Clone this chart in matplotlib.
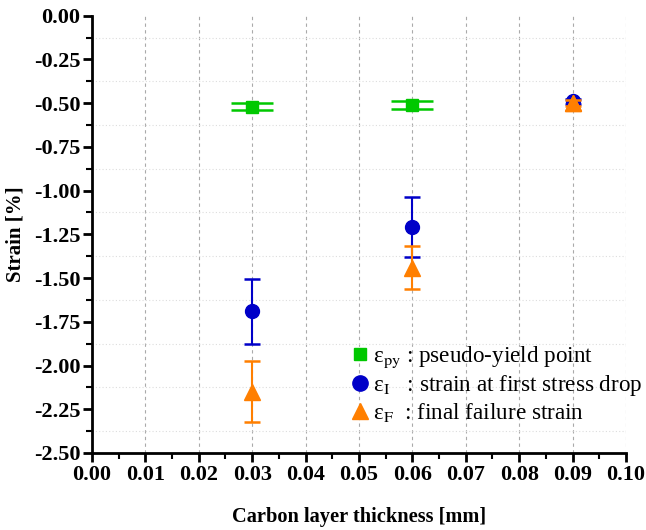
import matplotlib
matplotlib.use("Agg")
import matplotlib.pyplot as plt
from matplotlib.lines import Line2D
from matplotlib.ticker import MultipleLocator, FormatStrFormatter

plt.rcParams['font.family'] = ['Liberation Serif', 'DejaVu Serif']
plt.rcParams['mathtext.fontset'] = 'stix'

thickness = [0.03, 0.06, 0.09]
py_thickness = [0.03, 0.06]
eps_py = [-0.52, -0.51]
eps_py_err = [0.018, 0.022]
eps_I = [-1.69, -1.21, -0.49]
eps_I_err = [0.185, 0.172, 0.015]
eps_F = [-2.15, -1.44, -0.50]
eps_F_err = [0.175, 0.125, 0.018]

green = '#00C800'
blue = '#0000C8'
orange = '#FF7F00'

fig = plt.figure(figsize=(6.46, 5.30), dpi=100)
ax = fig.add_axes([0.1424, 0.1453, 0.8266, 0.8251])

ax.errorbar(py_thickness, eps_py, yerr=eps_py_err, fmt='s', color=green, ms=8,
            capsize=15, capthick=1.8, elinewidth=1.5, zorder=3)
ax.errorbar(thickness, eps_F, yerr=eps_F_err, fmt='^', color=orange, ms=11,
            capsize=6, capthick=1.8, elinewidth=1.5, zorder=4)
ax.errorbar(thickness, eps_I, yerr=eps_I_err, fmt='o', color=blue, ms=10,
            capsize=6, capthick=1.8, elinewidth=1.5, zorder=3.5)
ax.plot(thickness[2:], eps_F[2:], '^', color=orange, ms=11, zorder=5)

ax.set_xlim(0, 0.10)
ax.set_ylim(-2.5, 0.0)
ax.xaxis.set_major_locator(MultipleLocator(0.01))
ax.xaxis.set_minor_locator(MultipleLocator(0.005))
ax.yaxis.set_major_locator(MultipleLocator(0.25))
ax.yaxis.set_minor_locator(MultipleLocator(0.125))
ax.xaxis.set_major_formatter(FormatStrFormatter('%.2f'))
ax.yaxis.set_major_formatter(FormatStrFormatter('%.2f'))

for s in ['top', 'right']:
    ax.spines[s].set_visible(False)
for s in ['left', 'bottom']:
    ax.spines[s].set_linewidth(2.0)

ax.tick_params(axis='both', which='major', direction='out', length=6.5, width=2.0,
               labelsize=16, pad=2)
ax.tick_params(axis='both', which='minor', direction='out', length=4, width=1.5)
for lab in ax.get_xticklabels() + ax.get_yticklabels():
    lab.set_fontweight('bold')

ax.grid(True, which='major', axis='x', linestyle=(0, (3, 3)), color='#AAAAAA', linewidth=0.8)
ax.grid(True, which='minor', axis='y', linestyle=(0, (1, 2)), color='#DDDDDD', linewidth=0.8)
ax.set_axisbelow(True)

ax.set_xlabel('Carbon layer thickness [mm]', fontsize=14.7, fontweight='bold', labelpad=16)
ax.set_ylabel('Strain [%]', fontsize=15, fontweight='bold', labelpad=6)

handles = [
    Line2D([], [], marker='s', color=green, ls='none', ms=9),
    Line2D([], [], marker='o', color=blue, ls='none', ms=11),
    Line2D([], [], marker='^', color=orange, ls='none', ms=12),
]
labels = [
    'ε$_{\\mathrm{py}}$ : pseudo-yield point',
    'ε$_{\\mathrm{I}}$   : strain at first stress drop',
    'ε$_{\\mathrm{F}}$  : final failure strain',
]
ax.legend(handles, labels, loc='lower left', bbox_to_anchor=(0.462, 0.045),
          frameon=False, fontsize=16.7, handletextpad=0.1, labelspacing=0.12,
          handlelength=1.0, borderaxespad=0)

fig.savefig('out.png', dpi=100)
